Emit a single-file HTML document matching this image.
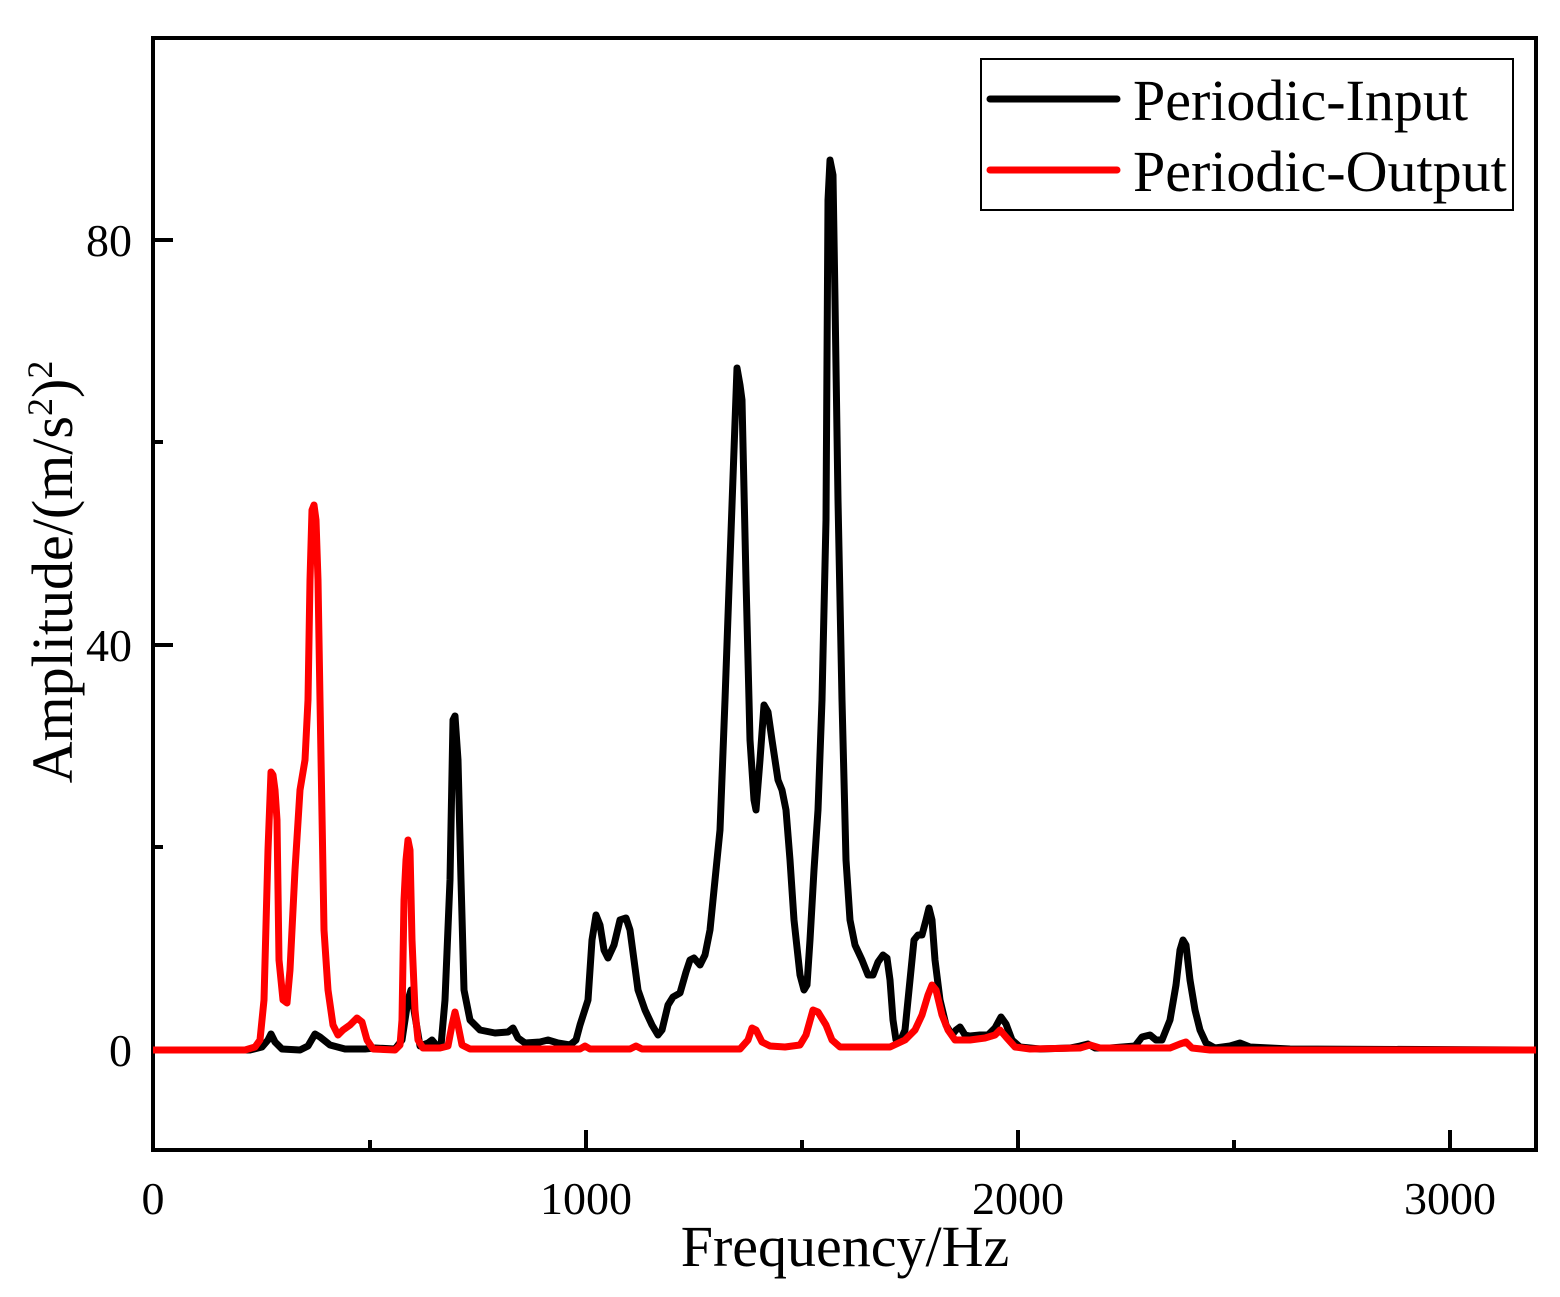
<!DOCTYPE html>
<html><head><meta charset="utf-8"><style>body{margin:0;background:#fff}svg{display:block}</style></head>
<body>
<svg width="1560" height="1297" viewBox="0 0 1560 1297" xmlns="http://www.w3.org/2000/svg" font-family="Liberation Serif, serif">
<rect width="1560" height="1297" fill="#fff"/>
<g stroke="#000" stroke-width="4" fill="none">
<rect x="153" y="38" width="1383" height="1112"/>
<path d="M586,1150V1130M1018,1150V1130M1450,1150V1130M370,1150V1140M802,1150V1140M1234,1150V1140"/>
<path d="M153,1050H173M153,645H173M153,240H173M153,847H163M153,442H163"/>
</g>
<g fill="#000" font-size="46" text-anchor="end">
<text x="132" y="1066">0</text><text x="132" y="661">40</text><text x="132" y="256">80</text>
</g>
<g fill="#000" font-size="46" text-anchor="middle">
<text x="153" y="1214">0</text><text x="586" y="1214">1000</text><text x="1018" y="1214">2000</text><text x="1450" y="1214">3000</text>
</g>
<text x="845" y="1266" font-size="58" text-anchor="middle" fill="#000">Frequency/Hz</text>
<text transform="translate(72,572) rotate(-90)" font-size="58" text-anchor="middle" fill="#000">Amplitude/(m/s<tspan font-size="36" dy="-20">2</tspan><tspan dy="20">)</tspan><tspan font-size="36" dy="-20">2</tspan></text>
<polyline fill="none" stroke="#000" stroke-width="7" stroke-linejoin="round" points="153,1050 250,1050 262,1047 268,1040 271,1034 275,1042 282,1049 300,1050 308,1046 315,1034 320,1037 330,1045 345,1049 365,1049 375,1048 395,1049 402,1040 408,1000 411,990 414,1010 420,1046 428,1043 432,1040 437,1046 441,1046 445,1000 450,880 453,720 455,716 458,760 461,880 464,990 470,1020 480,1030 495,1033 508,1032 513,1028 518,1038 525,1043 540,1042 548,1040 558,1043 570,1045 576,1040 580,1025 588,1000 592,940 596,915 600,925 604,950 608,958 614,945 620,920 626,918 630,930 638,990 645,1010 652,1025 658,1035 662,1030 668,1005 673,997 680,993 686,972 690,960 694,958 700,965 705,955 710,930 715,880 720,830 725,700 730,560 734,450 737,368 740,385 742,400 746,580 750,740 754,800 756,810 760,760 764,705 768,712 772,740 778,780 782,790 786,810 790,860 794,920 800,975 804,990 807,985 810,940 814,870 818,810 822,700 826,520 828,200 830,160 833,175 835,300 838,500 842,700 846,860 850,920 855,945 862,960 868,975 873,975 878,962 883,955 887,958 890,980 893,1020 896,1040 900,1042 905,1030 910,980 914,940 918,935 922,935 926,920 929,908 932,920 935,960 940,1000 946,1025 952,1035 956,1030 960,1027 965,1035 970,1036 980,1035 988,1035 995,1028 1001,1017 1006,1024 1012,1040 1020,1047 1040,1049 1070,1048 1080,1046 1088,1044 1095,1048 1110,1048 1135,1046 1142,1037 1150,1035 1156,1040 1162,1040 1170,1020 1176,985 1180,950 1183,940 1186,945 1190,980 1195,1010 1200,1030 1206,1043 1215,1048 1230,1046 1240,1043 1250,1047 1270,1048 1290,1049 1536,1050"/>
<polyline fill="none" stroke="#f00" stroke-width="7" stroke-linejoin="round" points="153,1050 245,1050 255,1047 260,1040 264,1000 268,850 271,772 273,775 275,790 277,820 279,960 283,1000 287,1003 290,970 295,870 300,790 305,760 308,700 310,580 312,510 314,505 316,520 318,580 320,700 324,930 328,990 333,1025 338,1035 343,1030 350,1025 357,1018 362,1022 367,1040 373,1049 395,1050 400,1045 402,1020 404,900 406,860 408,840 410,850 412,940 415,1010 418,1040 423,1048 440,1048 448,1046 452,1025 455,1012 458,1025 462,1045 470,1049 580,1049 585,1046 590,1049 630,1049 636,1046 642,1049 740,1049 748,1040 752,1028 756,1030 762,1042 770,1046 785,1047 800,1045 806,1035 813,1010 818,1012 826,1025 832,1040 840,1047 890,1047 905,1040 915,1030 922,1015 928,995 932,985 936,990 942,1015 948,1030 955,1040 970,1040 985,1038 995,1035 1000,1030 1006,1037 1015,1047 1030,1049 1080,1048 1090,1045 1100,1048 1170,1048 1180,1044 1186,1042 1192,1048 1210,1050 1536,1050"/>
<rect x="981" y="59" width="532" height="151" fill="#fff" stroke="#000" stroke-width="2"/>
<line x1="990" y1="99" x2="1117" y2="99" stroke="#000" stroke-width="7" stroke-linecap="round"/>
<line x1="990" y1="170" x2="1117" y2="170" stroke="#f00" stroke-width="7" stroke-linecap="round"/>
<g font-size="58" fill="#000"><text x="1133" y="120">Periodic-Input</text><text x="1133" y="191">Periodic-Output</text></g>
</svg>
</body></html>
